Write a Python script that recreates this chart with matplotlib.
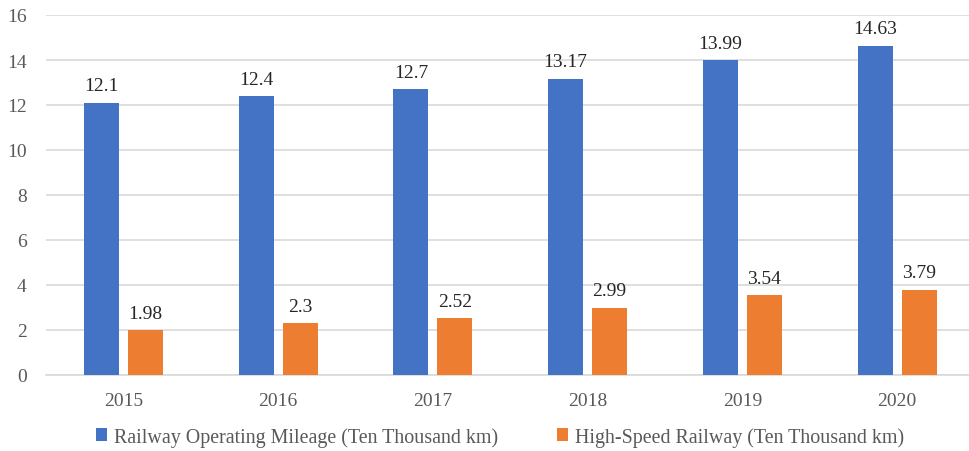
import matplotlib
matplotlib.use("Agg")
import matplotlib.pyplot as plt
from matplotlib import font_manager
import numpy as np

years = ["2015", "2016", "2017", "2018", "2019", "2020"]
operating_mileage = [12.1, 12.4, 12.7, 13.17, 13.99, 14.63]
high_speed = [1.98, 2.3, 2.52, 2.99, 3.54, 3.79]
series_names = ["Railway Operating Mileage (Ten Thousand km)",
                "High-Speed Railway (Ten Thousand km)"]
yticks = [0, 2, 4, 6, 8, 10, 12, 14, 16]

# pick a Times-like serif face
serif = "DejaVu Serif"
for name in ("Liberation Serif", "Times New Roman", "Nimbus Roman"):
    try:
        font_manager.findfont(font_manager.FontProperties(family=name), fallback_to_default=False)
        serif = name
        break
    except Exception:
        pass
plt.rcParams["font.family"] = [serif, "DejaVu Serif"]

fig = plt.figure(figsize=(9.69, 4.52), dpi=100)
ax = fig.add_axes([46 / 969, 1 - 376 / 452, 923 / 969, 360 / 452])

x = np.arange(len(years))
w = 0.226
gap = 0.058
blue = "#4472C4"
orange = "#ED7D31"

b1 = ax.bar(x - (w + gap) / 2, operating_mileage, w, color=blue, label=series_names[0], zorder=3)
b2 = ax.bar(x + (w + gap) / 2, high_speed, w, color=orange, label=series_names[1], zorder=3)

for bars, vals in ((b1, operating_mileage), (b2, high_speed)):
    for rect, v in zip(bars, vals):
        ax.annotate(f"{v:g}", (rect.get_x() + rect.get_width() / 2, v),
                    xytext=(0, 6), textcoords="offset points",
                    ha="center", va="bottom", fontsize=14, color="#262626")

ax.set_xlim(-0.501, 5.465)
ax.set_ylim(0, 16)
ax.set_yticks(yticks)
ax.set_xticks(x)
ax.set_xticklabels(years)
ax.yaxis.grid(True, color="#D9D9D9", linewidth=1.2, zorder=0)
ax.set_axisbelow(True)
for s in ("top", "right", "left"):
    ax.spines[s].set_visible(False)
ax.spines["bottom"].set_color("#D9D9D9")
ax.spines["bottom"].set_linewidth(1.2)
ax.tick_params(axis="both", length=0, labelsize=14, colors="#595959")
ax.tick_params(axis="x", pad=12)
ax.tick_params(axis="y", pad=14)

leg = fig.legend(loc="lower center", bbox_to_anchor=(0.516, -0.03), ncol=2, frameon=False,
                 fontsize=14.4, handlelength=0.55, handleheight=0.55, handletextpad=0.35,
                 columnspacing=2.9)
for t in leg.get_texts():
    t.set_color("#595959")

fig.savefig("out.png", dpi=100)
